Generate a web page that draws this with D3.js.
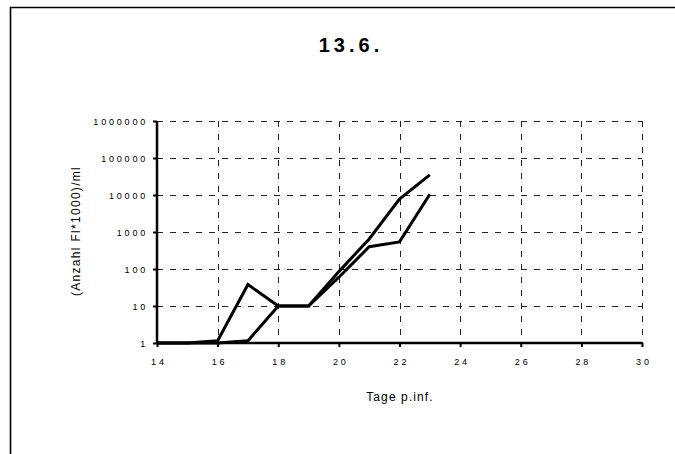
<!DOCTYPE html>
<html>
<head>
<meta charset="utf-8">
<script src="https://cdn.jsdelivr.net/npm/d3@7"></script>
<style>
  html, body { margin: 0; padding: 0; background: #fff; }
  svg { display: block; }
  text { font-family: Arial, "Liberation Sans", sans-serif; fill: #000; }
</style>
</head>
<body>
<svg id="chart" width="675" height="454"></svg>
<script>
// Days post infection
const days = [14, 15, 16, 17, 18, 19, 20, 21, 22, 23];
// Counts (Fl*1000)/ml, two samples
const seriesA = [1, 1, 1.15, 38, 10, 10, 85, 650, 7800, 35000];
const seriesB = [1, 1, 1, 1.15, 10, 10, 60, 400, 540, 10500];
const xTicks = [14, 16, 18, 20, 22, 24, 26, 28, 30];
const yTicks = [1, 10, 100, 1000, 10000, 100000, 1000000];

const title = "13.6.";
const xTitle = "Tage  p.inf.";
const yTitle = "(Anzahl  Fl*1000)/ml";

const svg = d3.select("#chart");
const W = 675, H = 454;
const plot = { left: 157, right: 642, top: 121, bottom: 343 };

const x = d3.scaleLinear().domain([14, 30]).range([plot.left, plot.right]);
const y = d3.scaleLog().domain([1, 1000000]).range([plot.bottom, plot.top]);

// outer frame (left and top edges)
svg.append("path")
  .attr("d", `M10.5,${H} V7.5 H${W}`)
  .attr("fill", "none").attr("stroke", "#000").attr("stroke-width", 1.6);

// title
svg.append("text")
  .attr("x", 351).attr("y", 52)
  .attr("text-anchor", "middle")
  .attr("font-size", 20).attr("font-weight", "bold")
  .attr("letter-spacing", 4)
  .text(title);

// dashed grid
const grid = svg.append("g").attr("stroke", "#222").attr("stroke-width", 1)
  .attr("stroke-dasharray", "6,7").attr("fill", "none");
yTicks.filter(d => d > 1).forEach(d => {
  grid.append("line")
    .attr("x1", plot.left).attr("x2", plot.right)
    .attr("y1", Math.round(y(d)) + 0.5).attr("y2", Math.round(y(d)) + 0.5);
});
xTicks.filter(d => d > 14).forEach(d => {
  grid.append("line")
    .attr("x1", Math.round(x(d)) + 0.5).attr("x2", Math.round(x(d)) + 0.5)
    .attr("y1", plot.top).attr("y2", plot.bottom);
});

// axes
const xAxis = d3.axisBottom(x).tickValues(xTicks).tickSize(4).tickFormat(d => d);
const yAxis = d3.axisLeft(y).tickValues(yTicks).tickSize(4).tickFormat(d => d);

const gx = svg.append("g").attr("transform", `translate(0,${plot.bottom})`).call(xAxis);
const gy = svg.append("g").attr("transform", `translate(${plot.left},0)`).call(yAxis);

[gx, gy].forEach(g => {
  g.select(".domain").attr("stroke", "#000").attr("stroke-width", 2.5);
  g.selectAll(".tick line").attr("stroke", "#000").attr("stroke-width", 2);
  g.selectAll(".tick text")
    .attr("font-family", "Arial, 'Liberation Sans', sans-serif")
    .attr("font-size", 9).attr("letter-spacing", 2.8).attr("fill", "#000");
});
gx.select(".domain").attr("d", `M${plot.left},0H${plot.right}`);
gy.select(".domain").attr("d", `M0,${plot.bottom}V${plot.top}`);
gx.selectAll(".tick text").attr("y", 19.5).attr("dy", "0.32em").attr("dx", 1.4);
gy.selectAll(".tick text").attr("x", -9).attr("dy", "0.34em");

// axis titles
svg.append("text")
  .attr("x", 400).attr("y", 401)
  .attr("text-anchor", "middle")
  .attr("font-size", 12).attr("letter-spacing", 1.1)
  .text(xTitle);

svg.append("text")
  .attr("transform", `translate(80,231) rotate(-90)`)
  .attr("text-anchor", "middle")
  .attr("font-size", 12).attr("letter-spacing", 1.3)
  .text(yTitle);

// data lines
const line = d3.line().x((d, i) => x(days[i])).y(d => y(d));
[seriesA, seriesB].forEach(s => {
  svg.append("path")
    .datum(s)
    .attr("d", line)
    .attr("fill", "none")
    .attr("stroke", "#000")
    .attr("stroke-width", 3)
    .attr("stroke-linejoin", "miter");
});
</script>
</body>
</html>
